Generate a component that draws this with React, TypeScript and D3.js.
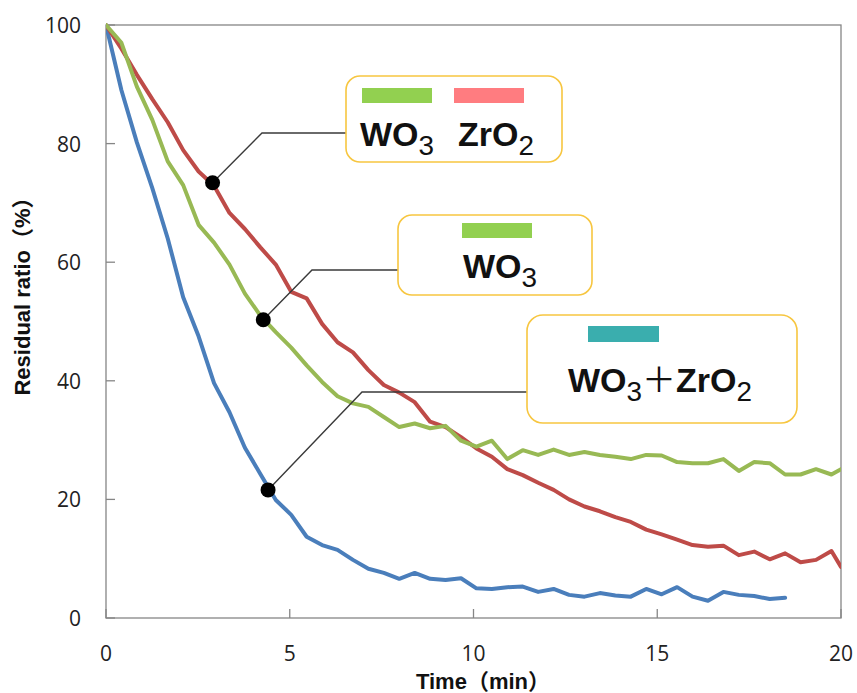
import React from "react";
import * as d3 from "d3";

// time axis (min)
const times = [0, 0.42, 0.84, 1.26, 1.68, 2.1, 2.52, 2.94, 3.36, 3.78, 4.2, 4.62, 5.04, 5.46, 5.88, 6.3, 6.72, 7.14, 7.56, 7.98, 8.4, 8.82, 9.24, 9.66, 10.08, 10.5, 10.92, 11.34, 11.76, 12.18, 12.6, 13.02, 13.44, 13.86, 14.28, 14.7, 15.12, 15.54, 15.96, 16.38, 16.8, 17.22, 17.64, 18.06, 18.48, 18.9, 19.32, 19.74, 20.0];

// WO3 + ZrO2 (blue)
const mixValues = [100, 89, 80.2, 72.5, 64, 54.1, 47.5, 39.6, 34.7, 28.7, 24.3, 19.9, 17.4, 13.7, 12.3, 11.5, 9.8, 8.3, 7.6, 6.6, 7.6, 6.6, 6.4, 6.7, 5.0, 4.9, 5.2, 5.3, 4.4, 4.9, 3.9, 3.6, 4.2, 3.8, 3.6, 4.9, 4.0, 5.2, 3.6, 2.9, 4.4, 3.9, 3.7, 3.2, 3.4];
// WO3 ZrO2 (red)
const layeredValues = [100, 96.0, 91.6, 87.5, 83.6, 78.9, 75.3, 72.9, 68.3, 65.6, 62.5, 59.6, 55.0, 53.9, 49.6, 46.5, 44.8, 41.8, 39.3, 38.0, 36.4, 33.1, 32.2, 30.5, 28.6, 27.2, 25.1, 24.1, 22.8, 21.6, 20.0, 18.8, 18.0, 17.0, 16.2, 14.9, 14.1, 13.2, 12.3, 12.0, 12.2, 10.6, 11.2, 9.9, 10.9, 9.4, 9.8, 11.3, 8.6];
// WO3 (green)
const wo3Values = [100, 97.0, 89.6, 84.0, 77.0, 73.0, 66.3, 63.3, 59.6, 54.7, 51.0, 48.2, 45.6, 42.6, 39.8, 37.4, 36.2, 35.6, 33.9, 32.2, 32.8, 32.0, 32.4, 29.9, 28.9, 29.9, 26.8, 28.3, 27.5, 28.4, 27.5, 28.0, 27.5, 27.2, 26.8, 27.5, 27.4, 26.3, 26.1, 26.1, 26.8, 24.8, 26.3, 26.1, 24.2, 24.2, 25.1, 24.2, 25.1];

const xTicks = [0, 5, 10, 15, 20];
const yTicks = [0, 20, 40, 60, 80, 100];

// annotation anchor points on the curves [time, value]
const dotPoints = [
  [2.9, 73.4],
  [4.28, 50.3],
  [4.41, 21.6],
];

const COLORS = { blue: "#4A7EBB", red: "#BE4B48", green: "#98B954" };
const LABEL_FONT = "'Liberation Sans', Arial, 'Noto Sans CJK JP', sans-serif";
const TICK_FONT = "'Open Sans', 'Liberation Sans', sans-serif";

function Formula({ x, y, parts, size, anchor }: { x: number; y: number; parts: [string, string][]; size: number; anchor?: string }) {
  return (
    <text x={x} y={y} fontFamily={LABEL_FONT} fontWeight="bold" fontSize={size} fill="#111" textAnchor={anchor || "start"}>
      {parts.map((p, i) => {
        const kind = p[1];
        const prev = i > 0 ? parts[i - 1][1] : "n";
        let dy = 0;
        if (kind === "s" && prev !== "s") dy = 9;
        if (kind !== "s" && prev === "s") dy = -9;
        return (
          <tspan key={i} dy={dy} fontSize={kind === "s" ? size * 0.82 : size} fontWeight={kind === "p" ? "normal" : kind === "s" ? "normal" : "bold"} fontFamily={kind === "p" ? "'Noto Sans CJK JP', sans-serif" : LABEL_FONT}>
            {p[0]}
          </tspan>
        );
      })}
    </text>
  );
}

export default function App() {
  const W = 857, H = 693;
  const x = d3.scaleLinear().domain([0, 20]).range([106, 841]);
  const y = d3.scaleLinear().domain([0, 100]).range([618, 25]);
  const line = d3
    .line<[number, number]>()
    .x((d) => x(d[0]))
    .y((d) => y(d[1]));
  const mk = (vals: number[]) => vals.map((v, i) => [times[i], v] as [number, number]);

  const axisColor = "#868686";
  const leaderColor = "#3a3a3a";

  const dots = dotPoints.map((p) => [x(p[0]), y(p[1])]);

  return (
    <svg width={W} height={H} style={{ position: "absolute", left: 0, top: 0, background: "#fff" }}>
      <defs>
        <clipPath id="plot">
          <rect x={106} y={20} width={735} height={600} />
        </clipPath>
      </defs>
      <rect x={0} y={0} width={W} height={H} fill="#fff" />
      {/* plot frame */}
      <rect x={106} y={25} width={735} height={593} fill="none" stroke={axisColor} strokeWidth={1.3} />
      {/* y ticks */}
      {yTicks.map((t) => (
        <g key={"y" + t}>
          <line x1={106} x2={115} y1={y(t)} y2={y(t)} stroke={axisColor} strokeWidth={1.3} />
          <text x={81} y={y(t)} textAnchor="end" dominantBaseline="central" fontFamily={TICK_FONT} fontSize={21} fill="#222">
            {t}
          </text>
        </g>
      ))}
      {/* x ticks */}
      {xTicks.map((t) => (
        <g key={"x" + t}>
          <line x1={x(t)} x2={x(t)} y1={618} y2={609} stroke={axisColor} strokeWidth={1.3} />
          <text x={x(t)} y={653} textAnchor="middle" dominantBaseline="central" fontFamily={TICK_FONT} fontSize={21} fill="#222">
            {t}
          </text>
        </g>
      ))}
      {/* axis titles */}
      <text x={483} y={689} textAnchor="middle" fontFamily={LABEL_FONT} fontWeight="bold" fontSize={22} fill="#111">
        Time（min）
      </text>
      <text transform="translate(22,291) rotate(-90)" textAnchor="middle" dominantBaseline="central" fontFamily={LABEL_FONT} fontWeight="bold" fontSize={22} fill="#111">
        Residual ratio（%）
      </text>

      {/* series */}
      <g clipPath="url(#plot)" fill="none" strokeWidth={4} strokeLinejoin="round" strokeLinecap="round">
        <path d={line(mk(mixValues)) || ""} stroke={COLORS.blue} />
        <path d={line(mk(layeredValues)) || ""} stroke={COLORS.red} />
        <path d={line(mk(wo3Values)) || ""} stroke={COLORS.green} />
      </g>

      {/* leader lines */}
      <polyline points={`${dots[0][0]},${dots[0][1]} 262,133 346,133`} fill="none" stroke={leaderColor} strokeWidth={1.4} />
      <polyline points={`${dots[1][0]},${dots[1][1]} 312,270 398,270`} fill="none" stroke={leaderColor} strokeWidth={1.4} />
      <polyline points={`${dots[2][0]},${dots[2][1]} 362,392 527,392`} fill="none" stroke={leaderColor} strokeWidth={1.4} />
      {dots.map((d, i) => (
        <circle key={i} cx={d[0]} cy={d[1]} r={7.5} fill="#000" />
      ))}

      {/* callout boxes */}
      <rect x={346} y={76} width={216} height={86} rx={14} fill="#fff" stroke="#F7C640" strokeWidth={1.6} />
      <rect x={362} y={88} width={70} height={15} fill="#92D050" />
      <rect x={454} y={88} width={70} height={15} fill="#FF7C80" />
      <Formula x={360} y={146} size={34} parts={[["WO", "n"], ["3", "s"]]} />
      <Formula x={458} y={146} size={34} parts={[["ZrO", "n"], ["2", "s"]]} />

      <rect x={398} y={215} width={194} height={80} rx={14} fill="#fff" stroke="#F7C640" strokeWidth={1.6} />
      <rect x={462} y={223} width={70} height={15} fill="#92D050" />
      <Formula x={463} y={278} size={34} parts={[["WO", "n"], ["3", "s"]]} />

      <rect x={527} y={315} width={270} height={108} rx={16} fill="#fff" stroke="#F7C640" strokeWidth={1.6} />
      <rect x={588} y={326} width={71} height={16} fill="#3AAEAE" />
      <Formula x={568} y={392} size={34} parts={[["WO", "n"], ["3", "s"], ["＋", "p"], ["ZrO", "n"], ["2", "s"]]} />
    </svg>
  );
}
